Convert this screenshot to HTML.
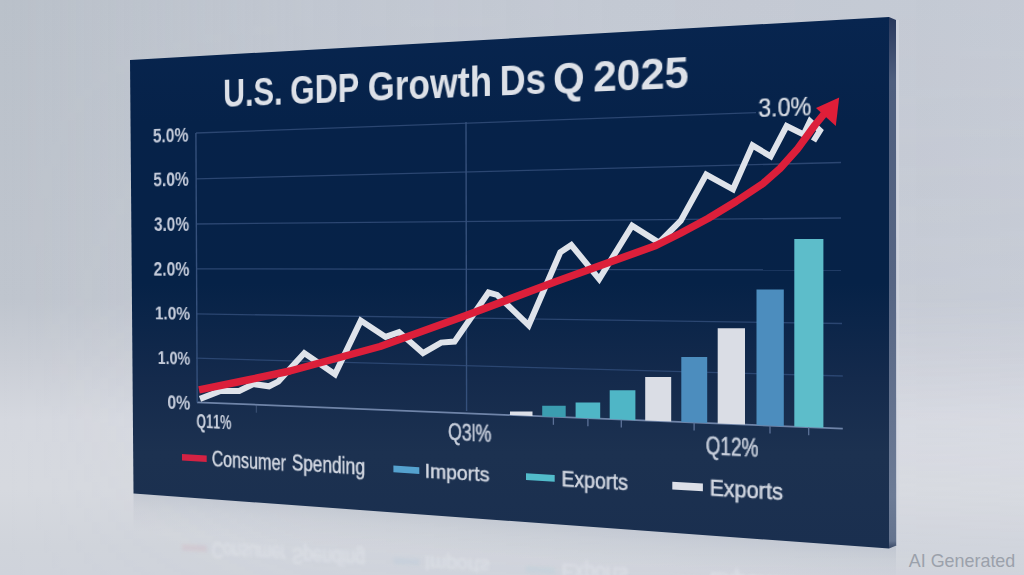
<!DOCTYPE html>
<html><head><meta charset="utf-8">
<style>
html,body{margin:0;padding:0;width:1024px;height:575px;overflow:hidden;}
body{position:relative;background:#c6cad2;font-family:"Liberation Sans",sans-serif;}
.abs{position:absolute;left:0;top:0;}
.board{position:absolute;left:0;top:0;width:760px;height:480px;transform-origin:0 0;transform:matrix3d(0.782442899,-0.060714046,0,-0.000243241071,0.008580135,0.907887988,0,0.000009651445,0,0,1,0,130.000000,60.000000,0,1.000000000);}
text{font-kerning:none;}
.refl{position:absolute;left:0;top:0;width:1024px;height:575px;transform-origin:0 0;transform:matrix(1,0.1200,0,-1,0,982.72);opacity:0.32;filter:blur(1.6px);}
</style></head><body>
<div id="wrap" style="position:absolute;left:0;top:0;width:1024px;height:575px;filter:blur(0.45px);">
<svg class="abs" width="1024" height="575" viewBox="0 0 1024 575">
  <defs>
    <linearGradient id="bg" gradientUnits="userSpaceOnUse" x1="0" y1="0" x2="0" y2="575">
      <stop offset="0" stop-color="rgb(186,193,202)"/>
      <stop offset="0.52" stop-color="rgb(191,197,206)"/>
      <stop offset="0.63" stop-color="rgb(202,206,214)"/>
      <stop offset="0.73" stop-color="rgb(213,216,223)"/>
      <stop offset="0.85" stop-color="rgb(214,217,223)"/>
      <stop offset="0.95" stop-color="rgb(208,212,219)"/>
      <stop offset="1" stop-color="rgb(207,211,219)"/>
    </linearGradient>
    <linearGradient id="bgx" gradientUnits="userSpaceOnUse" x1="0" y1="0" x2="1024" y2="0">
      <stop offset="0" stop-color="rgb(235,235,250)" stop-opacity="0"/>
      <stop offset="0.3" stop-color="rgb(235,235,250)" stop-opacity="0.15"/>
      <stop offset="0.6" stop-color="rgb(235,235,250)" stop-opacity="0.2"/>
      <stop offset="0.9" stop-color="rgb(235,235,250)" stop-opacity="0.21"/>
      <stop offset="1" stop-color="rgb(235,235,250)" stop-opacity="0.22"/>
    </linearGradient>
    <linearGradient id="bgxm" gradientUnits="userSpaceOnUse" x1="0" y1="0" x2="0" y2="575">
      <stop offset="0" stop-color="#fff" stop-opacity="1"/>
      <stop offset="0.52" stop-color="#fff" stop-opacity="0.85"/>
      <stop offset="0.73" stop-color="#fff" stop-opacity="0.55"/>
      <stop offset="1" stop-color="#fff" stop-opacity="0.2"/>
    </linearGradient>
    <linearGradient id="floorL" gradientUnits="userSpaceOnUse" x1="0" y1="494" x2="0" y2="575">
      <stop offset="0" stop-color="rgb(196,201,210)" stop-opacity="0.5"/>
      <stop offset="0.5" stop-color="rgb(200,205,213)" stop-opacity="0.25"/>
      <stop offset="1" stop-color="rgb(205,209,217)" stop-opacity="0"/>
    </linearGradient>
    <mask id="mx"><rect width="1024" height="575" fill="url(#bgxm)"/></mask>
    <linearGradient id="shadow" gradientUnits="userSpaceOnUse" x1="0" y1="484.3" x2="0" y2="522" gradientTransform="skewY(3.94)">
      <stop offset="0" stop-color="rgb(170,178,192)" stop-opacity="0.4"/>
      <stop offset="0.4" stop-color="rgb(175,183,196)" stop-opacity="0.2"/>
      <stop offset="1" stop-color="rgb(180,188,200)" stop-opacity="0"/>
    </linearGradient>
    <linearGradient id="side" gradientUnits="userSpaceOnUse" x1="0" y1="17" x2="0" y2="549">
      <stop offset="0" stop-color="rgb(40,56,92)"/>
      <stop offset="0.12" stop-color="rgb(78,94,126)"/>
      <stop offset="0.5" stop-color="rgb(86,101,131)"/>
      <stop offset="0.9" stop-color="rgb(108,123,150)"/>
      <stop offset="0.985" stop-color="rgb(100,115,142)"/>
      <stop offset="1" stop-color="rgb(50,65,95)"/>
    </linearGradient>
    <linearGradient id="face" gradientUnits="userSpaceOnUse" x1="0" y1="17" x2="0" y2="549">
      <stop offset="0" stop-color="rgb(8,37,79)"/>
      <stop offset="0.2" stop-color="rgb(6,34,73)"/>
      <stop offset="0.5" stop-color="rgb(6,34,71)"/>
      <stop offset="0.68" stop-color="rgb(20,42,76)"/>
      <stop offset="0.82" stop-color="rgb(28,49,80)"/>
      <stop offset="1" stop-color="rgb(26,47,79)"/>
    </linearGradient>
  </defs>
  <rect width="1024" height="575" fill="url(#bg)"/>
  <rect width="1024" height="575" fill="url(#bgx)" mask="url(#mx)"/>
  <polygon points="133.5,493.5 896,546 896,600 133.5,546" fill="url(#shadow)"/>

  <polygon points="130,60 889,17 889,548.5 133.5,493.5" fill="url(#face)"/>
  <polygon points="889,17 896,20 896.4,545.5 889,548.5" fill="url(#side)"/><line x1="897.5" y1="20" x2="897.8" y2="545" stroke="rgb(212,216,226)" stroke-width="3" opacity="0.6"/>
  <line x1="196.0" y1="133.0" x2="756.0" y2="112.6" stroke="#2b4671" stroke-width="1.30" opacity="1.00"/><line x1="196.0" y1="178.9" x2="841.0" y2="162.5" stroke="#2b4671" stroke-width="1.30" opacity="1.00"/><line x1="196.0" y1="224.0" x2="841.0" y2="218.0" stroke="#2b4671" stroke-width="1.30" opacity="1.00"/><line x1="196.0" y1="268.8" x2="841.0" y2="270.0" stroke="#2b4671" stroke-width="1.30" opacity="1.00"/><line x1="196.0" y1="313.9" x2="842.0" y2="323.5" stroke="#2b4671" stroke-width="1.30" opacity="1.00"/><line x1="196.0" y1="358.2" x2="842.8" y2="376.0" stroke="#2b4671" stroke-width="1.30" opacity="1.00"/><line x1="197.0" y1="402.3" x2="842.8" y2="428.6" stroke="#6f84a8" stroke-width="1.80" opacity="1.00"/><line x1="195.9" y1="133.0" x2="197.2" y2="402.6" stroke="#35507b" stroke-width="1.40" opacity="1.00"/><line x1="466.0" y1="121.9" x2="466.6" y2="411.0" stroke="#35507b" stroke-width="1.40" opacity="1.00"/><line x1="256.4" y1="404.7" x2="256.4" y2="412.7" stroke="#5c7298" stroke-width="1.30" opacity="0.45"/><line x1="553.4" y1="416.8" x2="553.4" y2="424.8" stroke="#5c7298" stroke-width="1.30" opacity="1.00"/><line x1="587.9" y1="418.2" x2="587.9" y2="426.2" stroke="#5c7298" stroke-width="1.30" opacity="1.00"/><line x1="621.3" y1="419.6" x2="621.3" y2="427.6" stroke="#5c7298" stroke-width="1.30" opacity="1.00"/><line x1="694.1" y1="422.5" x2="694.1" y2="430.5" stroke="#5c7298" stroke-width="1.30" opacity="1.00"/><line x1="770.0" y1="425.6" x2="770.0" y2="433.6" stroke="#5c7298" stroke-width="1.30" opacity="1.00"/><line x1="808.7" y1="427.2" x2="808.7" y2="435.2" stroke="#5c7298" stroke-width="1.30" opacity="1.00"/>
  <polygon points="510.0,411.4 532.5,411.4 532.5,416.0 510.0,415.0" fill="#dde0e8"/><polygon points="542.2,405.7 565.7,405.7 565.7,417.3 542.2,416.4" fill="#3b9db0"/><polygon points="575.6,402.6 600.2,402.6 600.2,418.7 575.6,417.7" fill="#4fb6c6"/><polygon points="609.7,390.3 635.4,390.3 635.4,420.2 609.7,419.1" fill="#4fb6c6"/><polygon points="645.2,376.9 671.2,376.9 671.2,421.6 645.2,420.6" fill="#dadde5"/><polygon points="681.3,357.0 707.2,357.0 707.2,423.1 681.3,422.0" fill="#4c8dbe"/><polygon points="717.7,328.3 745.0,328.3 745.0,424.6 717.7,423.5" fill="#dadde5"/><polygon points="756.5,289.4 783.8,289.4 783.8,426.2 756.5,425.1" fill="#4c8dbe"/><polygon points="794.3,239.0 823.4,239.0 823.4,427.8 794.3,426.6" fill="#5dbdca"/>
  <polyline points="200.0,398.9 220.4,391.0 239.2,391.0 253.3,384.0 269.0,386.3 278.3,381.6 304.3,353.1 335.0,374.2 360.8,320.6 385.6,336.9 399.0,332.1 423.0,353.1 441.1,342.6 454.5,341.6 488.5,292.5 497.0,294.9 528.7,325.3 560.3,252.3 571.3,245.0 599.2,279.1 632.1,225.6 658.9,242.6 680.8,220.7 706.2,174.6 733.0,189.3 752.5,145.4 770.7,156.4 786.6,126.0 803.6,134.5 810.0,121.2 820.0,130.5 813.5,141.0" fill="none" stroke="#dfe3ea" stroke-width="6" stroke-linejoin="miter" stroke-miterlimit="2.2" stroke-linecap="butt"/>
  <polyline points="199.0,389.9 250.0,379.5 290.0,371.0 380.0,346.5 466.0,315.5 556.0,281.5 656.0,245.5 680.0,233.5 708.0,218.5 736.0,201.5 763.0,183.5 780.0,168.5 797.0,149.6 815.0,125.0 824.0,114.0" fill="none" stroke="#dc1f3a" stroke-width="7.5" stroke-linejoin="round" stroke-linecap="butt"/>
  <polygon points="839.2,97.5 816.0,108.0 835.8,126.0" fill="#e01e38"/>
  <polygon points="182.0,454.1 206.7,455.5 206.7,462.0 182.0,460.6" fill="#d42243"/><polygon points="393.4,465.6 419.3,467.2 419.3,473.9 393.4,472.3" fill="#55a2cf"/><polygon points="526.0,473.2 554.7,474.9 554.7,481.7 526.0,480.0" fill="#52bccb"/><polygon points="672.3,481.8 702.9,483.6 702.9,491.2 672.3,489.4" fill="#dde0e8"/>
  <text x="908.8" y="566.8" font-size="19" fill="#9ba1ab" font-family="Liberation Sans, sans-serif" textLength="106.5" lengthAdjust="spacingAndGlyphs">AI Generated</text>
</svg>
<div class="refl">
<svg class="abs" width="1024" height="575" viewBox="0 0 1024 575" opacity="0.18"><polygon points="182.0,454.1 206.7,455.5 206.7,462.0 182.0,460.6" fill="#d42243"/><polygon points="393.4,465.6 419.3,467.2 419.3,473.9 393.4,472.3" fill="#55a2cf"/><polygon points="526.0,473.2 554.7,474.9 554.7,481.7 526.0,480.0" fill="#52bccb"/><polygon points="672.3,481.8 702.9,483.6 702.9,491.2 672.3,489.4" fill="#dde0e8"/></svg>
<div class="board">
<svg width="760" height="480" viewBox="0 0 760 480" style="font-family:'Liberation Sans',sans-serif">
<text x="94.73" y="443.84" font-size="24.00" font-weight="400" fill="#f4f6fa" stroke="#f4f6fa" stroke-width="0.50" textLength="85.42" lengthAdjust="spacingAndGlyphs">Consumer</text>
<text x="186.75" y="442.73" font-size="23.30" font-weight="400" fill="#f4f6fa" stroke="#f4f6fa" stroke-width="0.50" textLength="80.57" lengthAdjust="spacingAndGlyphs">Spending</text>
<text x="330.62" y="441.80" font-size="20.81" font-weight="400" fill="#f4f6fa" stroke="#f4f6fa" stroke-width="0.50" textLength="66.38" lengthAdjust="spacingAndGlyphs">Imports</text>
<text x="468.12" y="441.96" font-size="21.77" font-weight="400" fill="#f4f6fa" stroke="#f4f6fa" stroke-width="0.50" textLength="63.22" lengthAdjust="spacingAndGlyphs">Exports</text>
<text x="606.13" y="441.98" font-size="21.92" font-weight="400" fill="#f4f6fa" stroke="#f4f6fa" stroke-width="0.50" textLength="64.59" lengthAdjust="spacingAndGlyphs">Exports</text>
</svg>
</div>
</div>
<div class="board">
<svg width="760" height="480" viewBox="0 0 760 480" style="font-family:'Liberation Sans',sans-serif">
<text x="110.95" y="55.90" font-size="43.30" font-weight="700" fill="#dde1e8" textLength="68.11" lengthAdjust="spacingAndGlyphs">U.S.</text>
<text x="187.56" y="55.90" font-size="43.30" font-weight="700" fill="#dde1e8" textLength="75.74" lengthAdjust="spacingAndGlyphs">GDP</text>
<text x="272.62" y="55.90" font-size="43.30" font-weight="700" fill="#dde1e8" textLength="128.60" lengthAdjust="spacingAndGlyphs">Growth</text>
<text x="408.84" y="55.90" font-size="43.30" font-weight="700" fill="#dde1e8" textLength="45.58" lengthAdjust="spacingAndGlyphs">Ds</text>
<text x="461.26" y="55.90" font-size="43.30" font-weight="700" fill="#dde1e8" textLength="30.33" lengthAdjust="spacingAndGlyphs">Q</text>
<text x="499.69" y="55.90" font-size="43.30" font-weight="700" fill="#dde1e8" textLength="88.53" lengthAdjust="spacingAndGlyphs">2025</text>
<text x="27.17" y="91.81" font-size="21.35" font-weight="700" fill="#c3cad9" textLength="42.72" lengthAdjust="spacingAndGlyphs">5.0%</text>
<text x="27.24" y="140.19" font-size="21.37" font-weight="700" fill="#c3cad9" textLength="42.86" lengthAdjust="spacingAndGlyphs">5.0%</text>
<text x="27.69" y="189.28" font-size="22.51" font-weight="700" fill="#c3cad9" textLength="42.23" lengthAdjust="spacingAndGlyphs">3.0%</text>
<text x="26.67" y="238.31" font-size="22.54" font-weight="700" fill="#c3cad9" textLength="43.22" lengthAdjust="spacingAndGlyphs">2.0%</text>
<text x="27.93" y="286.37" font-size="20.95" font-weight="700" fill="#c3cad9" textLength="42.52" lengthAdjust="spacingAndGlyphs">1.0%</text>
<text x="30.88" y="335.05" font-size="20.64" font-weight="700" fill="#c3cad9" textLength="39.14" lengthAdjust="spacingAndGlyphs">1.0%</text>
<text x="42.16" y="383.81" font-size="22.04" font-weight="700" fill="#c3cad9" textLength="27.51" lengthAdjust="spacingAndGlyphs">0%</text>
<text x="76.72" y="403.26" font-size="22.66" font-weight="700" fill="#c8cfdc" textLength="41.05" lengthAdjust="spacingAndGlyphs">Q11%</text>
<text x="355.10" y="402.28" font-size="23.46" font-weight="400" fill="#c8cfdc" stroke="#c8cfdc" stroke-width="0.50" textLength="43.91" lengthAdjust="spacingAndGlyphs">Q3l%</text>
<text x="602.84" y="402.77" font-size="23.02" font-weight="400" fill="#c8cfdc" stroke="#c8cfdc" stroke-width="0.50" textLength="46.60" lengthAdjust="spacingAndGlyphs">Q12%</text>
<text x="649.72" y="86.37" font-size="24.31" font-weight="400" fill="#dde1e8" stroke="#dde1e8" stroke-width="0.20" textLength="45.60" lengthAdjust="spacingAndGlyphs">3.0%</text>
<text x="94.73" y="443.84" font-size="24.00" font-weight="400" fill="#d3d8e2" stroke="#d3d8e2" stroke-width="0.50" textLength="85.42" lengthAdjust="spacingAndGlyphs">Consumer</text>
<text x="186.75" y="442.73" font-size="23.30" font-weight="400" fill="#d3d8e2" stroke="#d3d8e2" stroke-width="0.50" textLength="80.57" lengthAdjust="spacingAndGlyphs">Spending</text>
<text x="330.62" y="441.80" font-size="20.81" font-weight="400" fill="#d3d8e2" stroke="#d3d8e2" stroke-width="0.50" textLength="66.38" lengthAdjust="spacingAndGlyphs">Imports</text>
<text x="468.12" y="441.96" font-size="21.77" font-weight="400" fill="#d3d8e2" stroke="#d3d8e2" stroke-width="0.50" textLength="63.22" lengthAdjust="spacingAndGlyphs">Exports</text>
<text x="606.13" y="441.98" font-size="21.92" font-weight="400" fill="#d3d8e2" stroke="#d3d8e2" stroke-width="0.50" textLength="64.59" lengthAdjust="spacingAndGlyphs">Exports</text>
</svg>
</div>
</div>
</body></html>
